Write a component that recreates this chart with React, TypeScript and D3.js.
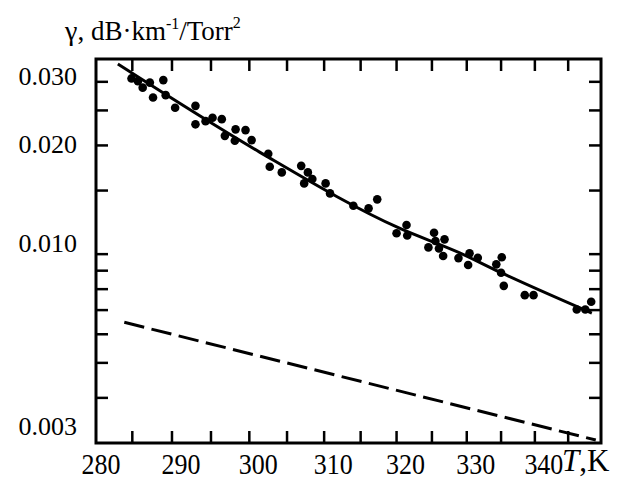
import React from "react";
import * as d3 from "d3";

// measured points: temperature (K) and gamma (dB·km^-1/Torr^2)
const tempK = [
  284.9, 285.7, 286.3, 287.2, 288.9, 287.6, 289.2, 290.4, 293.0, 293.0,
  294.3, 295.2, 296.4, 296.8, 298.2, 298.1, 299.5, 300.3, 302.5, 302.7,
  304.3, 306.9, 307.8, 308.4, 307.3, 310.2, 310.8, 314.0, 316.1, 317.3,
  321.4, 320.0, 321.5, 325.3, 325.5, 326.8, 324.5, 326.0, 326.6, 328.8,
  330.4, 330.2, 331.6, 334.3, 335.1, 335.0, 335.4, 338.5, 339.8, 346.3,
  347.6, 348.5,
];
const gamma = [
  0.03066, 0.03013, 0.02891, 0.02985, 0.03033, 0.02716, 0.02756, 0.02542, 0.02574, 0.02288,
  0.02335, 0.02385, 0.02365, 0.02126, 0.02216, 0.0206, 0.02205, 0.02069, 0.01896, 0.01745,
  0.01684, 0.01756, 0.01684, 0.01614, 0.0157, 0.0157, 0.01473, 0.01361, 0.01339, 0.01418,
  0.01204, 0.01142, 0.01126, 0.01146, 0.01087, 0.01099, 0.01044, 0.01037, 0.00988, 0.00975,
  0.01005, 0.00933, 0.00977, 0.00937, 0.0098, 0.00888, 0.00817, 0.0077, 0.0077, 0.00703,
  0.00703, 0.00738,
];

// fitted curve (solid)
const fitT = [283.2, 301.3, 320.4, 328.9, 334.7, 348.6];
const fitGamma = [0.0336, 0.0192, 0.0118, 0.0101, 0.00894, 0.00687];

// second curve (dashed)
const dashT = [284.0, 349.2];
const dashGamma = [0.006475, 0.003057];

const xTicks = [285, 290, 295, 300, 305, 310, 315, 320, 325, 330, 335, 340, 345];
const xLabels = [280, 290, 300, 310, 320, 330, 340];
const yTicks = [0.004, 0.005, 0.006, 0.007, 0.008, 0.009, 0.01, 0.015, 0.02, 0.025, 0.03];
const yLabelValues = [0.03, 0.02, 0.01, 0.003];
const yLabelText = ["0.030", "0.020", "0.010", "0.003"];

const W = 620;
const H = 479;
const left = 96;
const right = 601;
const top = 59;
const bottom = 443;
const tickLen = 12;
const font = "'Liberation Serif', 'Times New Roman', serif";

export default function App() {
  const x = d3.scaleLog().domain([280.5, 350]).range([left, right]);
  const y = d3.scaleLog().domain([0.003, 0.0347]).range([bottom, top]);

  const line = d3
    .line<[number, number]>()
    .x((d) => x(d[0]))
    .y((d) => y(d[1]))
    .curve(d3.curveMonotoneX);

  const fitPts = fitT.map((t, i) => [t, fitGamma[i]] as [number, number]);
  const dashPts = dashT.map((t, i) => [t, dashGamma[i]] as [number, number]);

  // small vertical nudges for the y labels (as placed in the original figure)
  const labelNudge = [-6, -1.5, -11, -17.5];

  return (
    <svg
      width={W}
      height={H}
      style={{ position: "absolute", left: 0, top: 0, background: "#fff" }}
    >
      <rect x={0} y={0} width={W} height={H} fill="#fff" />

      {/* title */}
      <text x={65} y={40} fontFamily={font} fill="#000">
        <tspan fontSize={28}>γ</tspan>
        <tspan fontSize={27}>, dB·km</tspan>
        <tspan fontSize={16} dy={-11}>-1</tspan>
        <tspan fontSize={27} dy={11}>/Torr</tspan>
        <tspan fontSize={16} dy={-12}>2</tspan>
      </text>

      {/* ticks */}
      <g stroke="#000" strokeWidth={2.5}>
        {xTicks.map((t) => (
          <g key={"xt" + t}>
            <line x1={x(t)} x2={x(t)} y1={bottom} y2={bottom - tickLen} />
            <line x1={x(t)} x2={x(t)} y1={top} y2={top + tickLen} />
          </g>
        ))}
        {yTicks.map((v) => (
          <g key={"yt" + v}>
            <line x1={left} x2={left + tickLen} y1={y(v)} y2={y(v)} />
            <line x1={right} x2={right - tickLen} y1={y(v)} y2={y(v)} />
          </g>
        ))}
      </g>

      {/* frame */}
      <rect
        x={left}
        y={top}
        width={right - left}
        height={bottom - top}
        fill="none"
        stroke="#000"
        strokeWidth={3}
      />

      {/* dashed curve */}
      <path
        d={line(dashPts) || ""}
        fill="none"
        stroke="#000"
        strokeWidth={3}
        strokeDasharray="20.5,7.5"
      />

      {/* fitted curve */}
      <path d={line(fitPts) || ""} fill="none" stroke="#000" strokeWidth={3} />

      {/* data points */}
      <g fill="#000">
        {tempK.map((t, i) => (
          <circle key={i} cx={x(t)} cy={y(gamma[i])} r={4.3} />
        ))}
      </g>

      {/* y labels */}
      {yLabelValues.map((v, i) => (
        <text
          key={"yl" + v}
          x={77}
          y={y(v) + labelNudge[i] + 9}
          textAnchor="end"
          fontFamily={font}
          fontSize={26}
          fill="#000"
        >
          {yLabelText[i]}
        </text>
      ))}

      {/* x labels */}
      {xLabels.map((t) => (
        <text
          key={"xl" + t}
          transform={`translate(${x(t) + 9},474) scale(1,1.15)`}
          textAnchor="middle"
          fontFamily={font}
          fontSize={26}
          fill="#000"
        >
          {t}
        </text>
      ))}

      {/* x axis title */}
      <text x={562} y={471} fontFamily={font} fontSize={31} fill="#000">
        <tspan fontStyle="italic">T</tspan>
        <tspan>,K</tspan>
      </text>
    </svg>
  );
}
